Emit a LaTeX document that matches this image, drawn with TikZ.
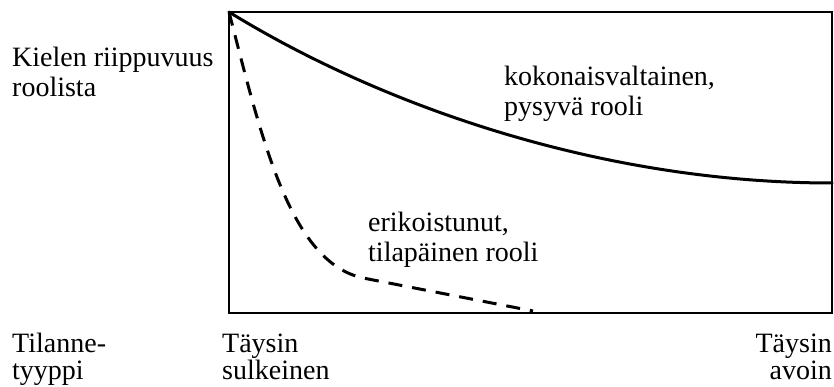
\documentclass[tikz,border=0pt]{standalone}
\usepackage{fontspec}
\setmainfont{Liberation Serif}
\begin{document}
\begin{tikzpicture}[x=1pt,y=-1pt,line cap=round,line join=round,
  every node/.style={inner sep=0pt,align=left,font=\fontsize{28}{30}\selectfont},
  lowlabel/.style={font=\fontsize{28}{27}\selectfont},
  boxline/.style={line width=2.5pt,line cap=butt,line join=miter},
  wholecurve/.style={line width=3pt},
  partcurve/.style={line width=3pt,line cap=butt,dash pattern=on 14pt off 10pt}]
  \useasboundingbox (0,0) rectangle (834,387);
  \def\L{229}
  \def\R{832}
  \def\T{12}
  \def\B{313}
  \coordinate (nw) at (\L,\T);
  \coordinate (se) at (\R,\B);
  \draw[boxline] (nw) rectangle (se);
  % curves
  \coordinate (open) at (\R,183);
  \coordinate (knee) at (363,278);
  \coordinate (stop) at (533,311);
  \draw[wholecurve] (nw) .. controls (380,105) and (600,183) .. (open);
  \draw[partcurve] (nw) .. controls (262,140) and (290,262) .. (knee) -- (stop);
  % labels (base = last line)
  \node[anchor=base west] (dep) at (12,97) {Kielen riippuvuus\\roolista};
  \node[anchor=base west] (whole) at (504,116) {kokonaisvaltainen,\\pysyvä rooli};
  \node[anchor=base west] (spec) at (368,261) {erikoistunut,\\tilapäinen rooli};
  \node[anchor=base west,lowlabel] (type) at (12,379) {Tilanne-\\tyyppi};
  \node[anchor=base west,lowlabel] (closed) at (222,379) {Täysin\\sulkeinen};
  \node[anchor=base east,align=right,lowlabel] (opened) at (\R,379) {Täysin\\avoin};
\end{tikzpicture}
\end{document}
